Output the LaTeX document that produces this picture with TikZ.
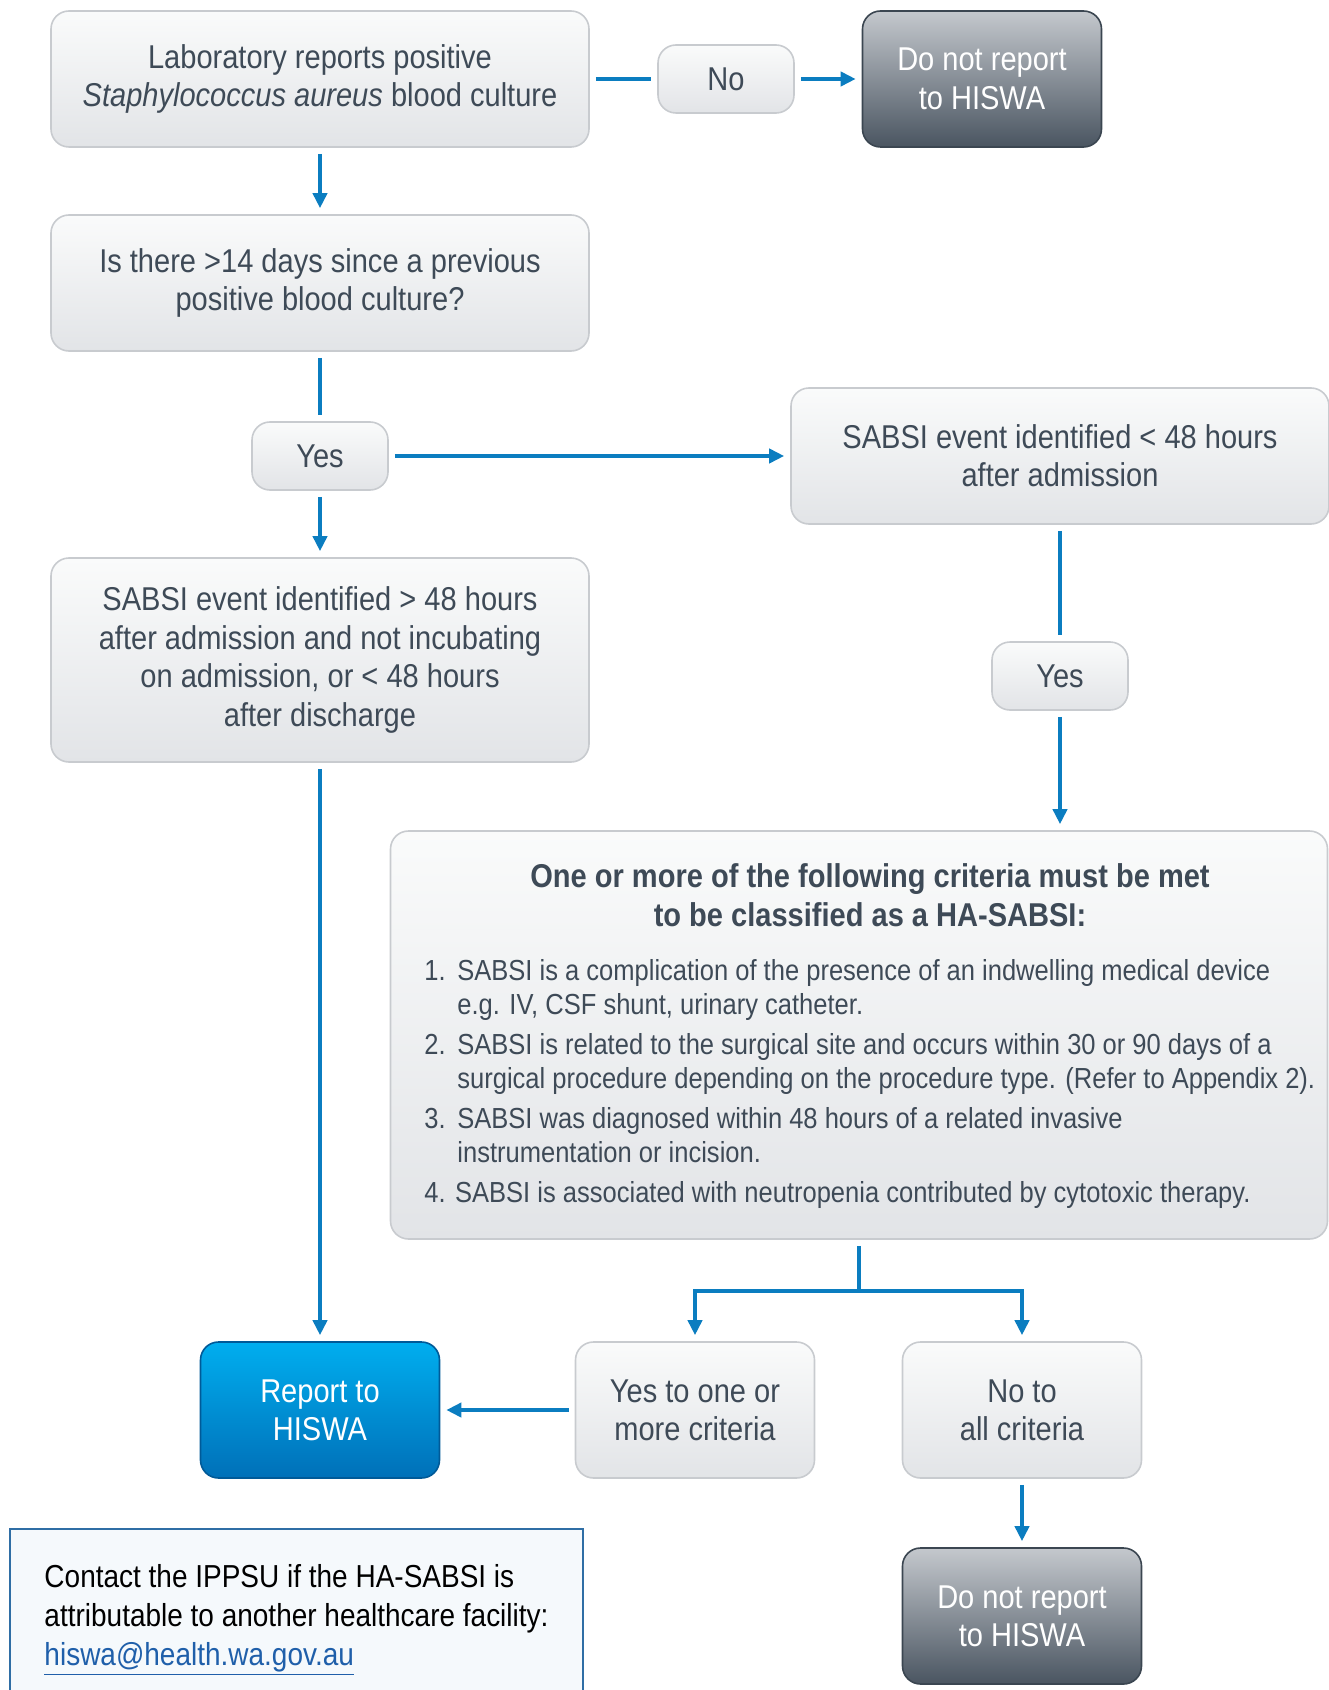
\documentclass[tikz,border=0pt]{standalone}
\usepackage{fontspec}
\setmainfont{Liberation Sans}[FakeStretch=0.88]
\usetikzlibrary{arrows.meta}

\definecolor{txtgrey}{HTML}{3E4A57}
\definecolor{boxtop}{HTML}{FAFBFB}
\definecolor{boxbot}{HTML}{E2E4E7}
\definecolor{boxline}{HTML}{C8CBCF}
\definecolor{darktop}{HTML}{C4C8CD}
\definecolor{darkbot}{HTML}{4A5561}
\definecolor{darkline}{HTML}{3B4651}
\definecolor{reptop}{HTML}{00AEEF}
\definecolor{repbot}{HTML}{0070B8}
\definecolor{repline}{HTML}{005A98}
\definecolor{arrowblue}{HTML}{0B7DC0}
\definecolor{notefill}{HTML}{F5F9FC}
\definecolor{noteline}{HTML}{2F6EA5}
\definecolor{linkblue}{HTML}{1F5FAA}

\def\numw{16.5pt}

\begin{document}
\begin{tikzpicture}[x=0.5pt, y=-0.5pt, font=\fontsize{16.5}{19.2}\selectfont]
    \tikzstyle{box}=[rounded corners=9pt, draw=boxline, line width=0.8pt, top color=boxtop, bottom color=boxbot, text=txtgrey, align=center, inner sep=0pt]
    \tikzstyle{wide box}=[box, minimum width=269pt, minimum height=68pt]
    \tikzstyle{small box}=[box, minimum width=68pt, minimum height=34pt]
    \tikzstyle{mid box}=[box, minimum width=119.5pt, minimum height=68pt]
    \tikzstyle{dark box}=[mid box, draw=darkline, top color=darktop, bottom color=darkbot, text=white]
    \tikzstyle{report box}=[mid box, draw=repline, top color=reptop, bottom color=repbot, text=white]
    \tikzstyle{link}=[line width=2pt, draw=arrowblue, shorten >=3pt, shorten <=3pt]
    \tikzstyle{arrow}=[link, -{Triangle[length=7.5pt,width=7pt]}]

    \useasboundingbox (0,0) rectangle (1328,1690);

    % Draw the top row
    \node[wide box] (lab) at (320,79) {Laboratory reports positive\\ \textit{Staphylococcus aureus} blood culture};
    \node[small box] (no) at (726,79) {No};
    \node[dark box] (dnr1) at (982,79) {Do not report\\ to HISWA};

    % Draw the left column
    \node[wide box] (prev) at (320,283) {Is there >14 days since a previous\\ positive blood culture?};
    \node[small box] (yes1) at (320,456) {Yes};
    \node[wide box, minimum height=102pt] (gt48) at (320,660) {SABSI event identified > 48 hours\\ after admission and not incubating\\ on admission, or < 48 hours\\ after discharge};

    % Draw the right column
    \node[wide box] (lt48) at (1060,456) {SABSI event identified < 48 hours\\ after admission};
    \node[small box] (yes2) at (1060,676) {Yes};

    % Draw the criteria box
    \node[box, minimum width=468.5pt, minimum height=204pt] (crit) at (859,1035) {};
    \node[text=txtgrey, align=center, font=\fontsize{16.5}{19.5}\selectfont\bfseries] (crithead) at (870,895)
        {One or more of the following criteria must be met\\ to be classified as a HA-SABSI:};
    \node[text=txtgrey, align=left, anchor=west, inner sep=0pt, font=\fontsize{14.5}{17}\selectfont] (critlist) at (424,1084)
        {\makebox[\numw][l]{1.}SABSI is a complication of the presence of an indwelling medical device\\
         \hspace*{\numw}e.g. IV, CSF shunt, urinary catheter.\\[3pt]
         \makebox[\numw][l]{2.}SABSI is related to the surgical site and occurs within 30 or 90 days of a\\
         \hspace*{\numw}surgical procedure depending on the procedure type. (Refer to Appendix 2).\\[3pt]
         \makebox[\numw][l]{3.}SABSI was diagnosed within 48 hours of a related invasive\\
         \hspace*{\numw}instrumentation or incision.\\[3pt]
         4. SABSI is associated with neutropenia contributed by cytotoxic therapy.};

    % Draw the bottom row
    \node[report box] (report) at (320,1410) {Report to\\ HISWA};
    \node[mid box] (yes3) at (695,1410) {Yes to one or\\ more criteria};
    \node[mid box] (noall) at (1022,1410) {No to\\ all criteria};
    \node[dark box] (dnr2) at (1022,1616) {Do not report\\ to HISWA};
    \coordinate (split) at (859,1291);

    % Draw the contact note
    \node[draw=noteline, fill=notefill, line width=0.6pt, minimum width=286.5pt, minimum height=91pt, align=left, inner sep=0pt, font=\fontsize{15.9}{19.4}\selectfont] (note) at (296.5,1620)
        {Contact the IPPSU if the HA-SABSI is\\ attributable to another healthcare facility:\\ \textcolor{linkblue}{\underline{hiswa@health.wa.gov.au}}};

    % Connect the boxes
    \foreach \source/\dest in {lab/no, prev/yes1, lt48/yes2}
        \draw[link] (\source) -- (\dest);
    \foreach \source/\dest in {no/dnr1, lab/prev, yes1/lt48, yes1/gt48, gt48/report, yes3/report, noall/dnr2}
        \draw[arrow] (\source) -- (\dest);
    \draw[arrow] (yes2) -- (yes2 |- crit.north);

    % Split below the criteria
    \draw[link, shorten >=0pt] (crit) -- (split);
    \draw[arrow, shorten <=0pt] (split) -| (yes3);
    \draw[arrow, shorten <=0pt] (split) -| (noall);
\end{tikzpicture}
\end{document}
